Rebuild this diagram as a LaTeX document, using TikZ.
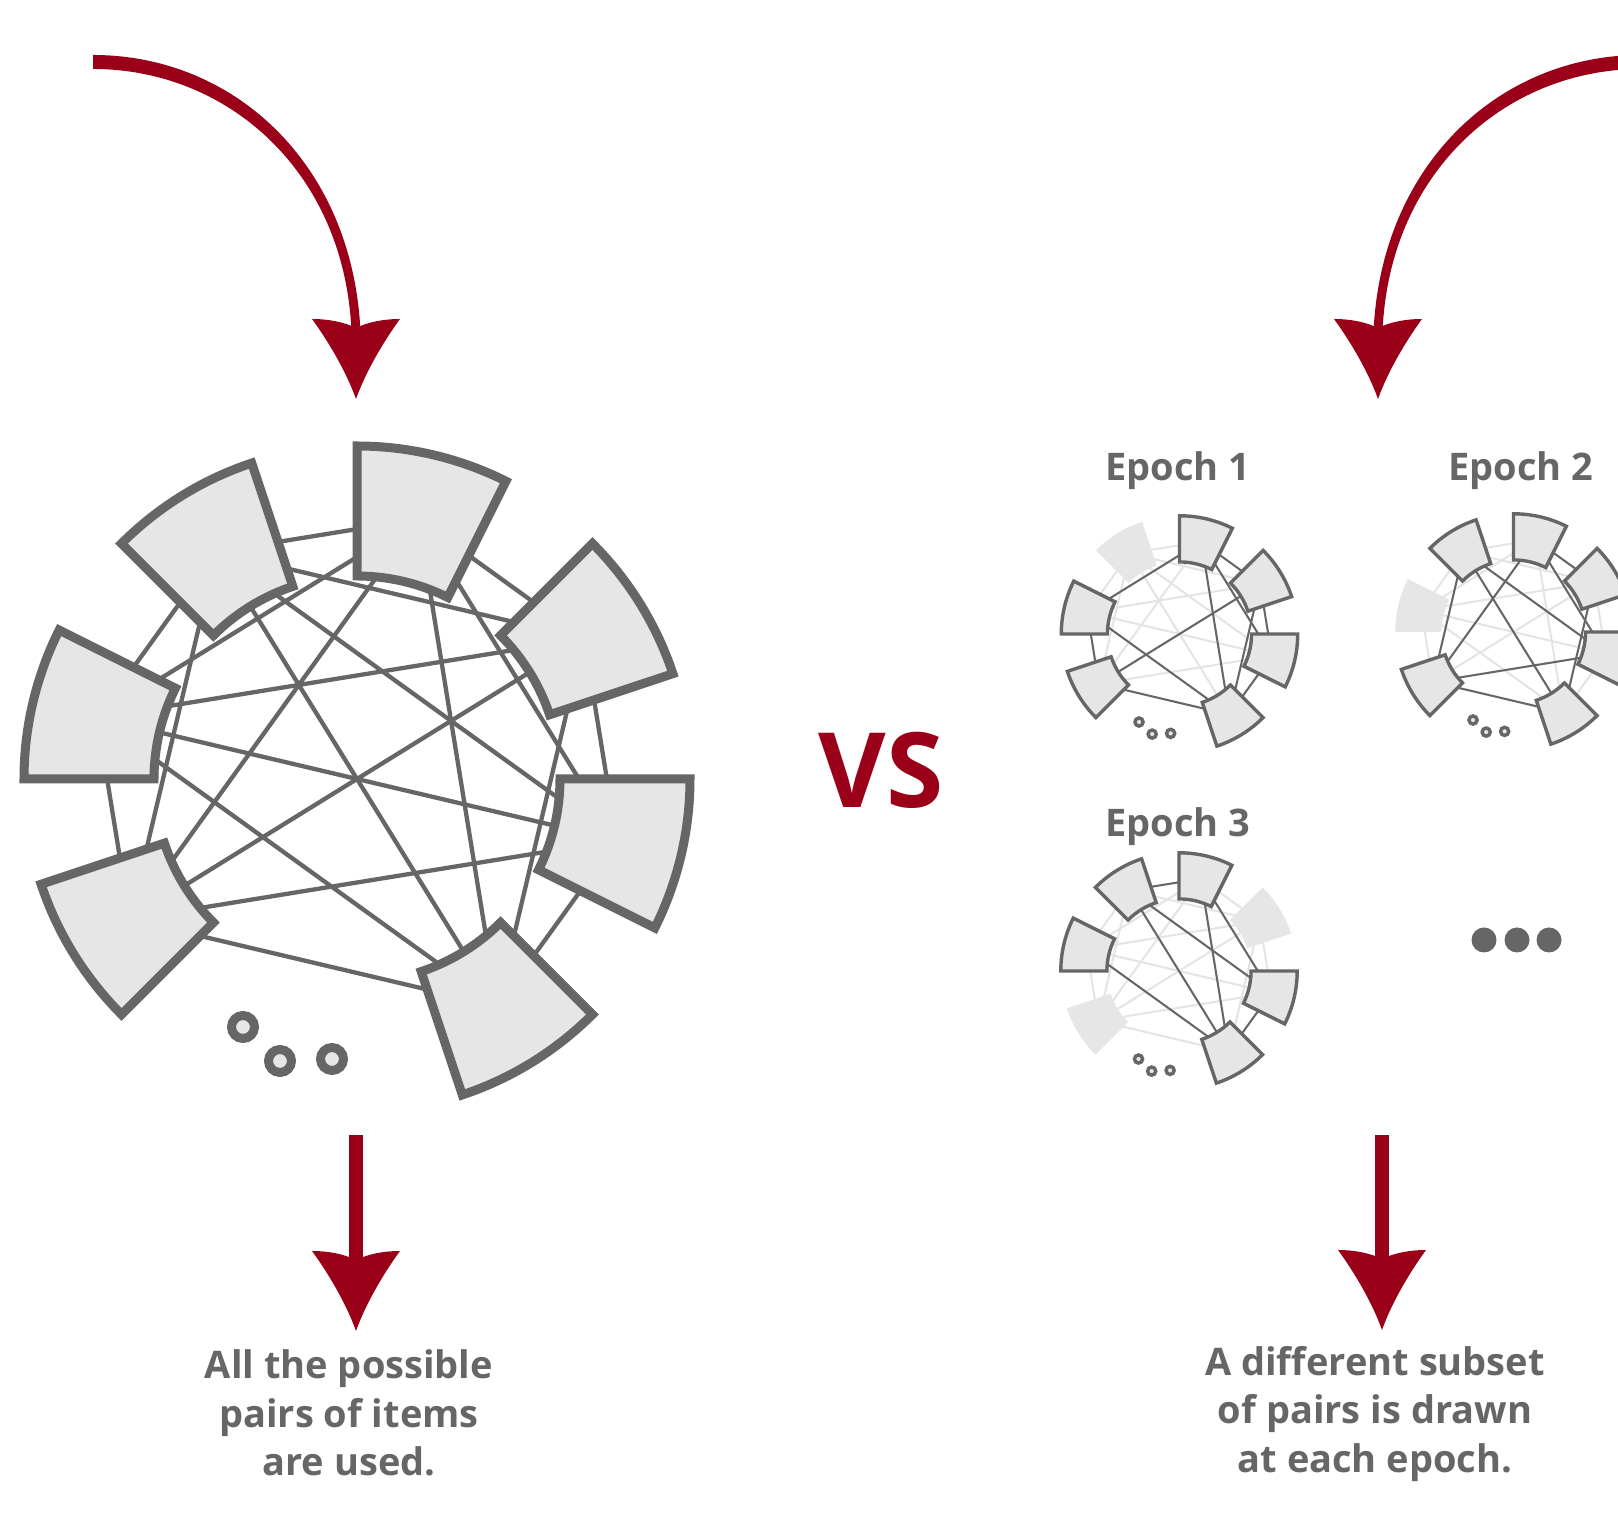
\documentclass[tikz,border=0pt]{standalone}
\usepackage{fontspec}
\setmainfont{Open Sans}
\definecolor{dred}{RGB}{155,0,25}
\definecolor{dgray}{RGB}{102,102,102}
\definecolor{lfill}{RGB}{230,230,230}
\definecolor{fadeline}{RGB}{228,228,228}
\newcommand{\allpairs}{0/1,0/2,0/3,0/4,0/5,0/7,1/2,1/3,1/4,1/5,1/7,2/3,2/4,2/5,2/7,3/4,3/5,3/7,4/5,4/7,5/7}
\newcommand{\ringseg}[2]{%
  \draw[#2] ({45*#1-26.565}:203) -- ({45*#1-26.565}:333)
    arc[start angle={45*#1-26.565}, end angle={45*#1}, radius=333]
    -- ({45*#1}:203)
    arc[start angle={45*#1}, end angle={45*#1-26.565}, radius=203] -- cycle;}
\newcommand{\redhead}[2]{%
  \fill[dred] (#1,#2) .. controls ({#1-10},{#2-28}) and ({#1-28},{#2-58}) .. ({#1-44},{#2-80})
    .. controls ({#1-28},{#2-80}) and ({#1-12},{#2-77}) .. (#1,{#2-71})
    .. controls ({#1+12},{#2-77}) and ({#1+28},{#2-80}) .. ({#1+44},{#2-80})
    .. controls ({#1+28},{#2-58}) and ({#1+10},{#2-28}) .. (#1,#2) -- cycle;}
\begin{document}
\begin{tikzpicture}[x=1pt,y=1pt,line join=miter,
  seg/.style={draw=dgray, fill=lfill, line width=9pt},
  minseg/.style={draw=dgray, fill=lfill, line width=3.4pt},
  fadeseg/.style={fill=lfill, draw=none},
  link/.style={draw=dgray, line width=4.3pt},
  minlink/.style={draw=dgray, line width=2pt},
  fadelink/.style={draw=fadeline, line width=2pt},
  bigdot/.style={draw=dgray, fill=lfill, line width=9pt},
  smalldot/.style={draw=dgray, fill=lfill, line width=3.4pt},
  captext/.style={text=dgray, font=\bfseries\fontsize{38}{48.5}\selectfont, align=center, inner sep=0pt},
  eplabel/.style={text=dgray, font=\bfseries\fontsize{38}{44}\selectfont, inner sep=0pt}]
\useasboundingbox (0,0) rectangle (1618,1526);
\fill[white] (0,0) rectangle (1618,1526);

% ---------- big ring ----------
\begin{scope}[shift={(357,747)}]
  \foreach \k in {0,1,2,3,4,5,7} {\coordinate (b\k) at ({45*\k-13.28}:267);}
  \foreach \i/\j in \allpairs {\draw[link] (b\i) -- (b\j);}
  \foreach \k in {0,1,2,3,4,5,7} {\ringseg{\k}{seg}}
  \draw[bigdot] (-114,-248) circle[radius=11.5];
  \draw[bigdot] (-77,-282) circle[radius=11.5];
  \draw[bigdot] (-25,-280) circle[radius=11.5];
\end{scope}

% ---------- epoch 1 ----------
\begin{scope}[shift={(1179.5,892)}, scale=0.355]
  \foreach \k in {0,1,2,3,4,5,7} {\coordinate (ea\k) at ({45*\k-13.28}:267);}
  \foreach \i/\j in \allpairs {\draw[fadelink] (ea\i) -- (ea\j);}
  \foreach \i/\j in {4/2,2/7,4/7,5/1,5/7,4/5,0/7,1/0,2/1,2/0,1/7} {\draw[minlink] (ea\i) -- (ea\j);}
  \ringseg{3}{fadeseg}
  \foreach \k in {0,1,2,4,5,7} {\ringseg{\k}{minseg}}
  \draw[smalldot] (-114,-248) circle[radius=11.5];
  \draw[smalldot] (-77,-282) circle[radius=11.5];
  \draw[smalldot] (-25,-280) circle[radius=11.5];
\end{scope}

% ---------- epoch 2 ----------
\begin{scope}[shift={(1513.5,894)}, scale=0.355]
  \foreach \k in {0,1,2,3,4,5,7} {\coordinate (eb\k) at ({45*\k-13.28}:267);}
  \foreach \i/\j in \allpairs {\draw[fadelink] (eb\i) -- (eb\j);}
  \foreach \i/\j in {3/0,3/7,3/5,5/2,5/0,5/7,2/1,2/0,1/7} {\draw[minlink] (eb\i) -- (eb\j);}
  \ringseg{4}{fadeseg}
  \foreach \k in {0,1,2,3,5,7} {\ringseg{\k}{minseg}}
  \draw[smalldot] (-114,-248) circle[radius=11.5];
  \draw[smalldot] (-77,-282) circle[radius=11.5];
  \draw[smalldot] (-25,-280) circle[radius=11.5];
\end{scope}

% ---------- epoch 3 ----------
\begin{scope}[shift={(1179,555)}, scale=0.355]
  \foreach \k in {0,1,2,3,4,5,7} {\coordinate (ec\k) at ({45*\k-13.28}:267);}
  \foreach \i/\j in \allpairs {\draw[fadelink] (ec\i) -- (ec\j);}
  \foreach \i/\j in {3/2,3/7,3/0,4/7,2/7,2/0,0/7} {\draw[minlink] (ec\i) -- (ec\j);}
  \ringseg{1}{fadeseg}
  \ringseg{5}{fadeseg}
  \foreach \k in {0,2,3,4,7} {\ringseg{\k}{minseg}}
  \draw[smalldot] (-114,-248) circle[radius=11.5];
  \draw[smalldot] (-77,-282) circle[radius=11.5];
  \draw[smalldot] (-25,-280) circle[radius=11.5];
\end{scope}

% ---------- image-coordinate layer ----------
\begin{scope}[shift={(0,1526)}, yscale=-1]
  % curved arrows
  \fill[dred] (93,55) .. controls (235,55) and (353,165) .. (360.5,332)
     -- (351.5,332) .. controls (345,172) and (228,69) .. (93,69) -- cycle;
  \redhead{356}{399}
  \fill[dred] (1641,55) .. controls (1499,55) and (1381,165) .. (1373.5,332)
     -- (1382.5,332) .. controls (1389,172) and (1506,69) .. (1641,69) -- cycle;
  \redhead{1378}{399}
  % straight arrows
  \fill[dred] (349,1135) rectangle (363,1262);
  \redhead{356}{1331}
  \fill[dred] (1375,1135) rectangle (1389,1262);
  \redhead{1382}{1330}
  % texts
  \node[captext] (capL) at (349,1413) {All the possible\\pairs of items\\are used.};
  \node[captext] (capR) at (1375,1414) {A different subset\\of pairs is drawn\\at each epoch.};
  \node[eplabel] (ep1) at (1178,470.5) {Epoch 1};
  \node[eplabel] (ep2) at (1521,470.5) {Epoch 2};
  \node[eplabel] (ep3) at (1178,826.5) {Epoch 3};
  \node[text=dred, font=\bfseries\fontsize{104}{110}\selectfont, inner sep=0pt] (vs) at (881,770) {VS};
  \fill[dgray] (1484,940) circle[radius=12.5];
  \fill[dgray] (1517,940) circle[radius=12.5];
  \fill[dgray] (1549,940) circle[radius=12.5];
\end{scope}
\end{tikzpicture}
\end{document}
